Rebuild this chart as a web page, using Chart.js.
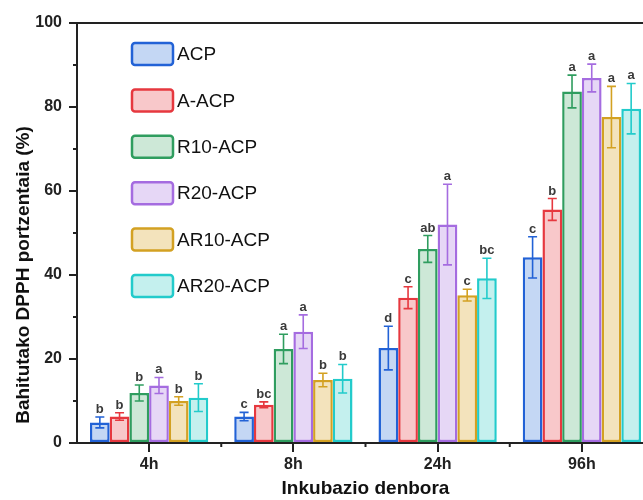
<!DOCTYPE html>
<html lang="eu">
<head>
  <meta charset="utf-8">
  <title>Bahitutako DPPH portzentaia</title>
  <script src="https://cdn.jsdelivr.net/npm/chart.js"></script>
  <style>
    html, body { margin: 0; padding: 0; background: #fff; overflow: hidden; }
    #wrap { width: 643px; height: 500px; overflow: hidden; }
  </style>
</head>
<body>
  <div id="wrap"><canvas id="chart" width="670" height="500"></canvas></div>
  <script>
    // data
    const categories = ['4h', '8h', '24h', '96h'];
    const seriesNames = ['ACP', 'A-ACP', 'R10-ACP', 'R20-ACP', 'AR10-ACP', 'AR20-ACP'];

    const acpVals  = [4.9, 6.3, 22.6, 44.2];
    const aAcpVals = [6.3, 9.1, 34.6, 55.6];
    const r10Vals  = [11.9, 22.4, 46.2, 83.7];
    const r20Vals  = [13.7, 26.5, 52.0, 86.9];
    const ar10Vals = [10.0, 15.0, 35.2, 77.6];
    const ar20Vals = [10.8, 15.3, 39.2, 79.6];

    const acpErr  = [1.3, 1.0, 5.2, 4.9];
    const aAcpErr = [0.9, 0.7, 2.6, 2.6];
    const r10Err  = [1.9, 3.5, 3.2, 3.9];
    const r20Err  = [1.9, 4.0, 9.6, 3.3];
    const ar10Err = [1.0, 1.6, 1.4, 7.3];
    const ar20Err = [3.3, 3.4, 4.8, 6.0];

    const acpLetters  = ['b', 'c', 'd', 'c'];
    const aAcpLetters = ['b', 'bc', 'c', 'b'];
    const r10Letters  = ['b', 'a', 'ab', 'a'];
    const r20Letters  = ['a', 'a', 'a', 'a'];
    const ar10Letters = ['b', 'b', 'c', 'a'];
    const ar20Letters = ['b', 'b', 'bc', 'a'];

    const yTicks = [0, 20, 40, 60, 80, 100];
    const yMinorTicks = [10, 30, 50, 70, 90];

    const values  = [acpVals, aAcpVals, r10Vals, r20Vals, ar10Vals, ar20Vals];
    const errors  = [acpErr, aAcpErr, r10Err, r20Err, ar10Err, ar20Err];
    const letters = [acpLetters, aAcpLetters, r10Letters, r20Letters, ar10Letters, ar20Letters];

    const edgeColors = ['#2262d6', '#e6383f', '#2f9d5f', '#a56ce0', '#d3a122', '#22cbcb'];
    const fillColors = ['#c4d7f4', '#f8c8ca', '#cde8d7', '#e6d7f6', '#f3e3bc', '#c4f0ee'];

    Chart.defaults.font.family = "'Liberation Sans', Arial, sans-serif";
    Chart.defaults.color = '#222';

    const decor = {
      id: 'decor',
      afterDatasetsDraw(chart) {
        const c = chart.ctx, y = chart.scales.y;
        chart.data.datasets.forEach((ds, di) => {
          const meta = chart.getDatasetMeta(di);
          meta.data.forEach((bar, i) => {
            const v = ds.data[i], e = errors[di][i];
            const top = y.getPixelForValue(v + e), bot = y.getPixelForValue(v - e);
            c.save();
            c.strokeStyle = edgeColors[di];
            c.lineWidth = 1.6;
            c.beginPath();
            c.moveTo(bar.x, top); c.lineTo(bar.x, bot);
            c.moveTo(bar.x - 4.5, top); c.lineTo(bar.x + 4.5, top);
            c.moveTo(bar.x - 4.5, bot); c.lineTo(bar.x + 4.5, bot);
            c.stroke();
            c.fillStyle = '#3a3a3a';
            c.font = "bold 13px 'Liberation Sans', Arial, sans-serif";
            c.textAlign = 'center';
            c.textBaseline = 'alphabetic';
            c.fillText(letters[di][i], bar.x, top - 4);
            c.restore();
          });
        });
      },
      afterDraw(chart) {
        const c = chart.ctx, a = chart.chartArea, x = chart.scales.x, y = chart.scales.y;
        c.save();
        c.strokeStyle = '#222';
        c.lineWidth = 2;
        // top frame
        c.beginPath();
        c.moveTo(a.left - 1, a.top); c.lineTo(a.right, a.top);
        c.stroke();
        // minor ticks
        c.beginPath();
        yMinorTicks.forEach(t => {
          const py = y.getPixelForValue(t);
          c.moveTo(a.left - 4, py); c.lineTo(a.left, py);
        });
        for (let i = 0; i < categories.length - 1; i++) {
          const px = (x.getPixelForValue(i) + x.getPixelForValue(i + 1)) / 2;
          c.moveTo(px, a.bottom); c.lineTo(px, a.bottom + 4);
        }
        c.stroke();
        // y title
        c.save();
        c.translate(24, 275);
        c.rotate(-Math.PI / 2);
        c.fillStyle = '#111';
        c.font = "bold 19px 'Liberation Sans', Arial, sans-serif";
        c.textAlign = 'center';
        c.textBaseline = 'middle';
        c.fillText('Bahitutako DPPH portzentaia (%)', 0, 0);
        c.restore();
        // legend
        chart.data.datasets.forEach((ds, di) => {
          const cy = 54 + di * 46.4;
          c.fillStyle = fillColors[di];
          c.strokeStyle = edgeColors[di];
          c.lineWidth = 2.5;
          c.beginPath();
          c.roundRect(132, cy - 11, 41, 22, 3);
          c.fill();
          c.stroke();
          c.fillStyle = '#111';
          c.font = "19px 'Liberation Sans', Arial, sans-serif";
          c.textAlign = 'left';
          c.textBaseline = 'middle';
          c.fillText(ds.label, 177, cy + 1);
        });
        c.restore();
      }
    };

    new Chart(document.getElementById('chart'), {
      type: 'bar',
      data: {
        labels: categories,
        datasets: seriesNames.map((name, di) => ({
          label: name,
          data: values[di],
          backgroundColor: fillColors[di],
          borderColor: edgeColors[di],
          borderWidth: 2.5,
          borderSkipped: false,
          categoryPercentage: 0.82,
          barPercentage: 1
        }))
      },
      options: {
        responsive: false,
        animation: false,
        layout: { padding: { top: 23, right: 16, left: 0, bottom: 0 } },
        plugins: { legend: { display: false }, tooltip: { enabled: false } },
        scales: {
          x: {
            grid: { offset: false, drawOnChartArea: false, tickLength: 9, color: '#222', lineWidth: 2 },
            border: { color: '#222', width: 2 },
            ticks: { font: { size: 16, weight: 'bold' }, color: '#222', padding: 3 },
            title: { display: true, text: 'Inkubazio denbora', color: '#111', font: { size: 19, weight: 'bold' }, padding: { top: 0, bottom: 0 } },
            afterFit(s) { s.height = 57; }
          },
          y: {
            min: 0, max: 100,
            afterBuildTicks(s) { s.ticks = yTicks.map(v => ({ value: v })); },
            grid: { drawOnChartArea: false, tickLength: 8, color: '#222', lineWidth: 2 },
            border: { color: '#222', width: 2 },
            ticks: { font: { size: 16, weight: 'bold' }, color: '#222', padding: 7 },
            afterFit(s) { s.width = 77; }
          }
        }
      },
      plugins: [decor]
    });
  </script>
</body>
</html>
